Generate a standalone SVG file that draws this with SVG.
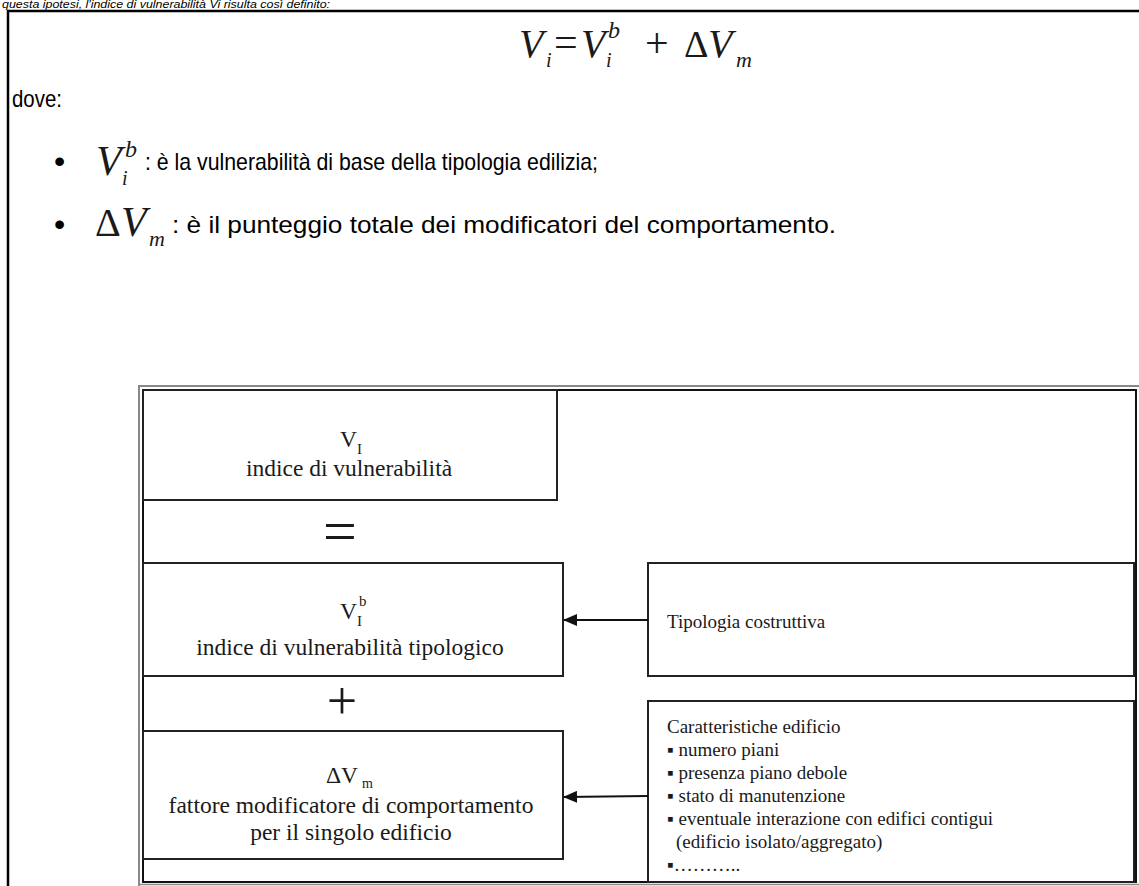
<svg xmlns="http://www.w3.org/2000/svg" width="1139" height="886" viewBox="0 0 1139 886">
<style>
.sans{font-family:"Liberation Sans","Arial",sans-serif;fill:#000}
.serif{font-family:"Liberation Serif","Times New Roman",serif;fill:#1a1a1a}
.it{font-style:italic}
.box{fill:#fff;stroke:#222;stroke-width:2}
.conn{stroke:#111;stroke-width:2;fill:none}
.lbl{font-size:23.5px}
.rt{font-size:19px}
</style>
<defs>
<marker id="ah" markerWidth="14" markerHeight="12" refX="13" refY="6" orient="auto" markerUnits="userSpaceOnUse">
<path d="M0,0 L14,6 L0,12 Z" fill="#111"/>
</marker>
</defs>
<rect width="1139" height="886" fill="#fff"/>

<g id="header">
<text class="sans it" x="2" y="8" font-size="10" textLength="328" lengthAdjust="spacingAndGlyphs">questa ipotesi, l'indice di vulnerabilità Vi risulta così definito:</text>
<path d="M8,886 V11 H1139" fill="none" stroke="#000" stroke-width="2.5"/>
</g>

<g id="formula">
<text x="519" y="57" font-size="40" class="serif it">V</text>
<text x="546" y="67" font-size="20" class="serif it">i</text>
<text x="554" y="56" font-size="42" class="serif">=</text>
<text x="581" y="57" font-size="40" class="serif it">V</text>
<text x="606" y="67" font-size="20" class="serif it">i</text>
<text x="608" y="38" font-size="24" class="serif it">b</text>
<text x="645" y="57" font-size="42" class="serif">+</text>
<text x="684" y="57" font-size="38" class="serif">Δ</text>
<text x="708" y="57" font-size="40" class="serif it">V</text>
<text x="736" y="67" font-size="22" class="serif it">m</text>
</g>

<g id="text-dove">
<text class="sans" x="12" y="107" font-size="24" textLength="50" lengthAdjust="spacingAndGlyphs">dove:</text>
</g>

<g id="bullet-1">
<text class="sans" x="54" y="172" font-size="32">•</text>
<text x="96" y="175" font-size="42" class="serif it">V</text>
<text x="122" y="185" font-size="20" class="serif it">i</text>
<text x="125" y="157" font-size="24" class="serif it">b</text>
<text class="sans" x="145" y="170" font-size="24" textLength="453" lengthAdjust="spacingAndGlyphs">: è la vulnerabilità di base della tipologia edilizia;</text>
</g>

<g id="bullet-2">
<text class="sans" x="54" y="235" font-size="32">•</text>
<text x="95" y="236" font-size="40" class="serif">Δ</text>
<text x="121" y="236" font-size="42" class="serif it">V</text>
<text x="149" y="246" font-size="22" class="serif it">m</text>
<text class="sans" x="172" y="233" font-size="24" textLength="664" lengthAdjust="spacingAndGlyphs">: è il punteggio totale dei modificatori del comportamento.</text>
</g>

<g id="frame">
<path d="M139,886 V386 H1139" fill="none" stroke="#888" stroke-width="2"/>
<line x1="139" y1="884.5" x2="1139" y2="884.5" stroke="#888" stroke-width="1.5"/>
<rect x="143" y="390" width="993" height="492" fill="none" stroke="#111" stroke-width="2"/>
</g>

<g id="node-vi">
<rect class="box" x="143" y="390" width="414" height="110"/>
<text class="serif lbl" x="340" y="447">V</text>
<text class="serif" x="357" y="454" font-size="15">I</text>
<text class="serif lbl" x="349" y="476" text-anchor="middle">indice di vulnerabilità</text>
</g>

<g id="op-eq">
<text class="serif" x="340" y="551" font-size="60" text-anchor="middle">=</text>
</g>

<g id="node-vib">
<rect class="box" x="143" y="563" width="420" height="113"/>
<text class="serif lbl" x="340" y="619">V</text>
<text class="serif" x="357" y="626" font-size="15">I</text>
<text class="serif" x="359" y="606" font-size="15">b</text>
<text class="serif lbl" x="350" y="655" text-anchor="middle">indice di vulnerabilità tipologico</text>
</g>

<g id="op-plus">
<text class="serif" x="342" y="719" font-size="54" text-anchor="middle">+</text>
</g>

<g id="node-dvm">
<rect class="box" x="143" y="731" width="420" height="128"/>
<text class="serif lbl" x="326" y="783">ΔV</text>
<text class="serif" x="362" y="788" font-size="14">m</text>
<text class="serif lbl" x="351" y="813" text-anchor="middle">fattore modificatore di comportamento</text>
<text class="serif lbl" x="351" y="840" text-anchor="middle">per il singolo edificio</text>
</g>

<g id="node-tipologia">
<rect class="box" x="648" y="563" width="486" height="113"/>
<text class="serif rt" x="667" y="628">Tipologia costruttiva</text>
</g>

<g id="node-caratteristiche">
<rect class="box" x="648" y="701" width="486" height="181"/>
<g class="serif rt">
<text x="667" y="733">Caratteristiche edificio</text>
<text x="667" y="756">▪ numero piani</text>
<text x="667" y="779">▪ presenza piano debole</text>
<text x="667" y="802">▪ stato di manutenzione</text>
<text x="667" y="825">▪ eventuale interazione con edifici contigui</text>
<text x="676" y="848">(edificio isolato/aggregato)</text>
<text x="667" y="871">▪………..</text>
</g>
</g>

<g id="connectors">
<line class="conn" x1="648" y1="620" x2="564" y2="620" marker-end="url(#ah)"/>
<line class="conn" x1="648" y1="796" x2="564" y2="797" marker-end="url(#ah)"/>
</g>
</svg>
